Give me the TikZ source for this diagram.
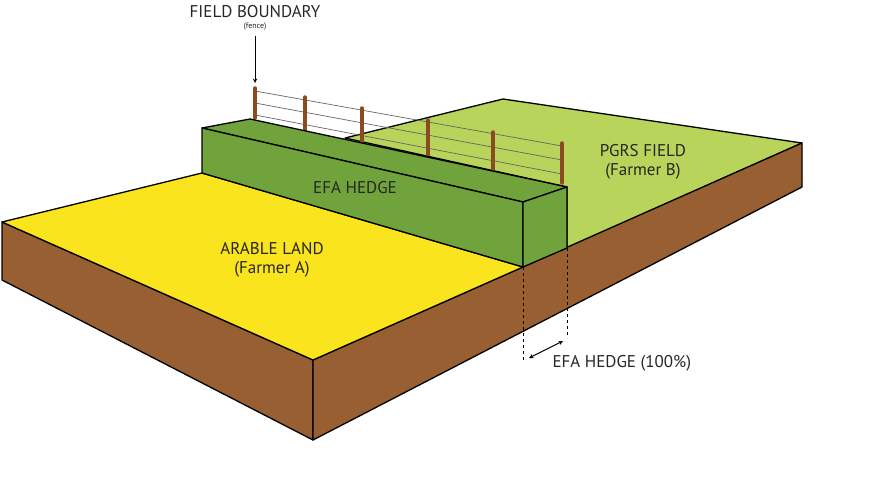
\documentclass[tikz,border=0pt]{standalone}
\usepackage{fontspec}
\setmainfont{PT Sans}
\begin{document}
\begin{tikzpicture}[x=1pt,y=-1pt,
  face/.style={draw=black,line width=1.3pt,line join=round},
  post/.style={draw={rgb,255:red,139;green,74;blue,34},line width=3.5pt,line cap=round},
  wire/.style={draw=gray!80!black,line width=0.7pt},
  lbl/.style={font=\fontsize{17}{19}\selectfont,text=black!85,align=center}]
\definecolor{yel}{RGB}{249,228,30}
\definecolor{soil}{RGB}{152,96,50}
\definecolor{hedge}{RGB}{113,163,60}
\definecolor{pgrs}{RGB}{184,212,90}
\useasboundingbox (0,0) rectangle (874,492);
% coordinates
\coordinate (A1) at (2,222); \coordinate (A2) at (202,173);
\coordinate (F1) at (313,360); \coordinate (F2) at (313,440); \coordinate (A3) at (2,280);
\coordinate (R1) at (802,143); \coordinate (R2) at (802,187);
\coordinate (P1) at (503,99); \coordinate (P0) at (345,138);
\coordinate (H1) at (202,128); \coordinate (H2) at (250,119); \coordinate (H3) at (567,187);
\coordinate (H4) at (523,202); \coordinate (H5) at (523,267); \coordinate (H6) at (567,248);
% PGRS field
\path[face,fill=pgrs] (P0) -- (P1) -- (R1) -- (H6) -- (H3) -- cycle;
% soil
\path[face,fill=soil] (A1) -- (F1) -- (F2) -- (A3) -- cycle;
\path[face,fill=soil] (F1) -- (R1) -- (R2) -- (F2) -- cycle;
% arable
\path[face,fill=yel] (A1) -- (A2) -- (H5) -- (F1) -- cycle;
% fence
\foreach \ya/\yb in {91/146,103/160,115/174}
  \draw[wire] (255,\ya) -- (562,\yb);
\foreach \x/\t/\b in {255/88/118,305/97/130,362/108/142,428/120/155,493/132/170,562/143/183}
  \draw[post] (\x,\t) -- (\x,\b);
% hedge
\path[face,fill=hedge] (H1) -- (H2) -- (H3) -- (H4) -- cycle;
\path[face,fill=hedge] (H1) -- (H4) -- (H5) -- (A2) -- cycle;
\path[face,fill=hedge] (H4) -- (H3) -- (H6) -- (H5) -- cycle;
% dashed
\coordinate (D1) at (523,360); \coordinate (D2) at (567,338);
\draw[dashed,line width=1pt] (H5) -- (D1);
\draw[dashed,line width=1pt] (H6) -- (D2);
\coordinate (E1) at (529,358); \coordinate (E2) at (563,341);
\draw[<->,>=stealth,line width=1pt] (E1) -- (E2);
% labels
\node[lbl] (fb) at (255,12) {FIELD BOUNDARY};
\node[font=\fontsize{8}{9}\selectfont,text=black!85] (fen) at (255,27) {(fence)};
\coordinate (fa) at (255,83);
\draw[->,>=stealth,line width=1pt] (255,36) -- (fa);
\node[lbl] (eh) at (355,188) {EFA HEDGE};
\node[lbl] (ar) at (272,260) {ARABLE LAND\\(Farmer A)};
\node[lbl] (pg) at (643,162) {PGRS FIELD\\(Farmer B)};
\node[lbl,anchor=west] (e100) at (549,363) {EFA HEDGE (100\%)};
\end{tikzpicture}
\end{document}
